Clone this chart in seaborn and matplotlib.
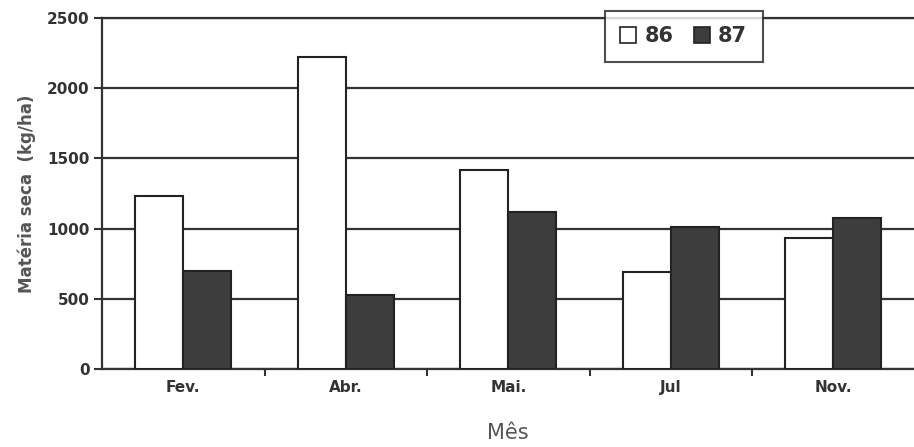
import matplotlib
matplotlib.use("Agg")
import matplotlib.pyplot as plt
from matplotlib.patches import Patch
import pandas as pd
import seaborn as sns

# valores (kg/ha)
meses = ["Fev.", "Abr.", "Mai.", "Jul", "Nov."]
ano86 = [1232, 2222, 1420, 690, 930]
ano87 = [698, 527, 1115, 1008, 1077]
anos = ["86", "87"]

df = pd.DataFrame({
    "mes": meses * 2,
    "ano": [anos[0]] * len(meses) + [anos[1]] * len(meses),
    "valor": ano86 + ano87,
})

sns.set_style("white")
plt.rcParams["font.family"] = ["DejaVu Sans"]

cinza = "#333333"
cores = {"86": "white", "87": "#3d3d3d"}

fig = plt.figure(figsize=(9.14, 4.47), dpi=100)
ax = fig.add_axes([0.1116, 0.1745, 0.889, 0.7852])

sns.barplot(data=df, x="mes", y="valor", hue="ano", order=meses,
            hue_order=anos, palette=cores, width=0.59, edgecolor="#222222",
            linewidth=1.5, saturation=1, legend=False, ax=ax, zorder=3)

ax.set_ylim(0, 2500)
ax.set_xlim(-0.5, len(meses) - 0.5)
ax.set_yticks([0, 500, 1000, 1500, 2000, 2500])
ax.yaxis.grid(True, color=cinza, linewidth=1.6, zorder=0)
ax.set_axisbelow(True)

# rótulos no centro, traços nos limites das categorias
ax.set_xticks(range(len(meses)))
ax.set_xticklabels(meses)
ax.tick_params(axis="x", which="major", length=0, pad=8)
ax.set_xticks([i + 0.5 for i in range(len(meses) - 1)], minor=True)
ax.tick_params(axis="x", which="minor", length=5, width=1.5, color=cinza,
               direction="out", bottom=True)
ax.tick_params(axis="y", length=6, width=1.5, color=cinza, direction="out",
               left=True, pad=3)

for lab in ax.get_xticklabels() + ax.get_yticklabels():
    lab.set_fontweight("bold")
    lab.set_fontsize(11)
    lab.set_color(cinza)

for s in ["left", "bottom", "top"]:
    ax.spines[s].set_color(cinza)
    ax.spines[s].set_linewidth(1.6)
ax.spines["right"].set_visible(False)

ax.set_ylabel("Matéria seca  (kg/ha)", fontsize=12, fontweight="bold",
              color="#555555", labelpad=8)
ax.set_xlabel("Mês", fontsize=15, color="#555555", labelpad=20)

handles = [Patch(facecolor=cores[a], edgecolor="#222222", linewidth=1.2, label=a)
           for a in anos]
leg = fig.legend(handles=handles, loc="center", bbox_to_anchor=(0.748, 0.919),
                 ncol=2, frameon=True, fancybox=False,
                 handlelength=0.75, handleheight=0.75, handletextpad=0.4,
                 columnspacing=1.0, borderpad=0.75,
                 prop={"weight": "bold", "size": 15})
leg.get_frame().set_edgecolor("#222222")
leg.get_frame().set_linewidth(1.5)
for t in leg.get_texts():
    t.set_color(cinza)

fig.savefig("out.png", dpi=100, facecolor="white")
